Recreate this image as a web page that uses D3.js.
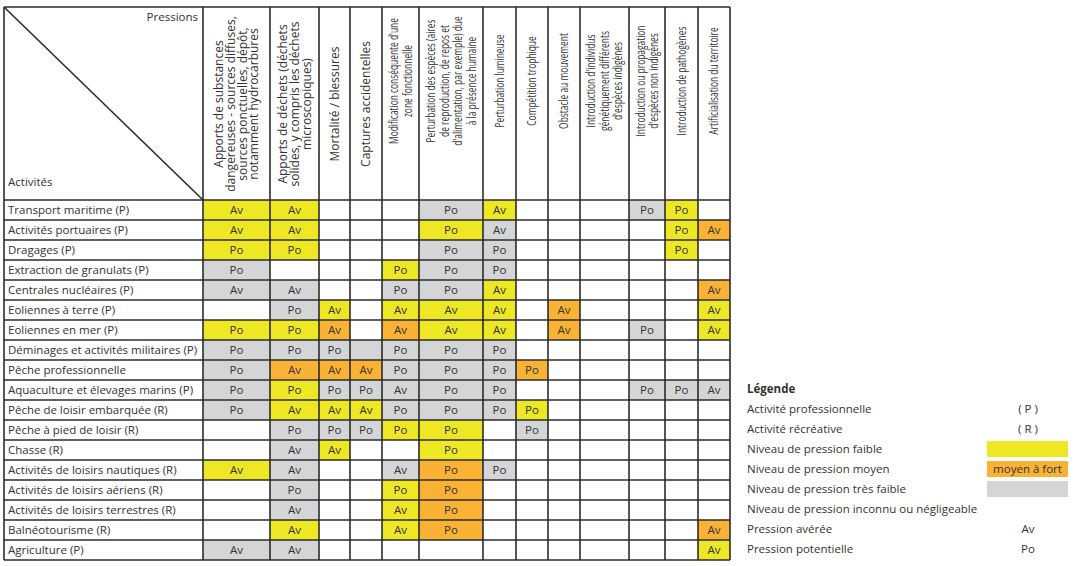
<!DOCTYPE html>
<html lang="fr">
<head>
<meta charset="UTF-8">
<title>Pressions par activité</title>
<script src="https://d3js.org/d3.v7.min.js"></script>
<style>
	body, html {
		margin: 0;
		padding: 0;
		background: #fff;
		overflow: hidden;
	}
	svg {
		display: block;
		font-family: "Open Sans", "Noto Sans", sans-serif;
		font-size: 11.5px;
		fill: #333;
	}
	.grid {
		stroke: #2b2b2b;
		stroke-width: 1.6;
	}
	.head text {
		font-size: 12px;
	}
</style>
</head>
<body>
<div id="chart"></div>
<script>
	// Activités (lignes)
	const activites = [
		"Transport maritime (P)",
		"Activités portuaires (P)",
		"Dragages (P)",
		"Extraction de granulats (P)",
		"Centrales nucléaires (P)",
		"Eoliennes à terre (P)",
		"Eoliennes en mer (P)",
		"Déminages et activités militaires (P)",
		"Pêche professionnelle",
		"Aquaculture et élevages marins (P)",
		"Pêche de loisir embarquée (R)",
		"Pêche à pied de loisir (R)",
		"Chasse (R)",
		"Activités de loisirs nautiques (R)",
		"Activités de loisirs aériens (R)",
		"Activités de loisirs terrestres (R)",
		"Balnéotourisme (R)",
		"Agriculture (P)"
	];

	// Pressions (colonnes), une entrée par ligne de texte
	const pressions = [
		["Apports de substances", "dangereuses - sources diffuses,", "sources ponctuelles, dépôt,", "notamment hydrocarbures"],
		["Apports de déchets (déchets", "solides, y compris les déchets", "microscopiques)"],
		["Mortalité / blessures"],
		["Captures accidentelles"],
		["Modification conséquente d'une", "zone fonctionnelle"],
		["Perturbation des espèces (aires", "de reproduction, de repos et", "d'alimentation, par exemple) due", "à la présence humaine"],
		["Perturbation lumineuse"],
		["Compétition trophique"],
		["Obstacle au mouvement"],
		["Introduction d'individus", "génétiquement différents", "d'espèces indigènes"],
		["Introduction ou propagation", "d'espèces non indigènes"],
		["Introduction de pathogènes"],
		["Artificialisation du territoire"]
	];

	// Niveau de pression : f = faible, m = moyen à fort, t = très faible, "" = inconnu / négligeable
	const niveaux = [
		["f", "f", "",  "",  "",  "t", "f", "",  "",  "", "t", "f", "" ],
		["f", "f", "",  "",  "",  "f", "t", "",  "",  "", "",  "f", "m"],
		["f", "f", "",  "",  "",  "t", "t", "",  "",  "", "",  "f", "" ],
		["t", "",  "",  "",  "f", "t", "t", "",  "",  "", "",  "",  "" ],
		["t", "t", "",  "",  "t", "t", "f", "",  "",  "", "",  "",  "m"],
		["",  "t", "f", "",  "f", "f", "f", "",  "m", "", "",  "",  "f"],
		["f", "f", "m", "",  "m", "f", "f", "",  "m", "", "t", "",  "f"],
		["t", "t", "t", "t", "t", "t", "t", "",  "",  "", "",  "",  "" ],
		["t", "m", "m", "m", "t", "t", "t", "m", "",  "", "",  "",  "" ],
		["t", "f", "t", "t", "t", "t", "t", "",  "",  "", "t", "t", "t"],
		["t", "f", "f", "f", "t", "t", "t", "f", "",  "", "",  "",  "" ],
		["",  "t", "t", "t", "f", "f", "",  "t", "",  "", "",  "",  "" ],
		["",  "t", "f", "",  "",  "f", "",  "",  "",  "", "",  "",  "" ],
		["f", "t", "",  "",  "t", "m", "t", "",  "",  "", "",  "",  "" ],
		["",  "t", "",  "",  "f", "m", "",  "",  "",  "", "",  "",  "" ],
		["",  "t", "",  "",  "f", "m", "",  "",  "",  "", "",  "",  "" ],
		["",  "f", "",  "",  "f", "m", "",  "",  "",  "", "",  "",  "m"],
		["t", "t", "",  "",  "",  "",  "",  "",  "",  "", "",  "",  "f"]
	];

	// Type de pression : Av = avérée, Po = potentielle
	const types = [
		["Av", "Av", "",   "",   "",   "Po", "Av", "",   "",   "", "Po", "Po", ""  ],
		["Av", "Av", "",   "",   "",   "Po", "Av", "",   "",   "", "",   "Po", "Av"],
		["Po", "Po", "",   "",   "",   "Po", "Po", "",   "",   "", "",   "Po", ""  ],
		["Po", "",   "",   "",   "Po", "Po", "Po", "",   "",   "", "",   "",   ""  ],
		["Av", "Av", "",   "",   "Po", "Po", "Av", "",   "",   "", "",   "",   "Av"],
		["",   "Po", "Av", "",   "Av", "Av", "Av", "",   "Av", "", "",   "",   "Av"],
		["Po", "Po", "Av", "",   "Av", "Av", "Av", "",   "Av", "", "Po", "",   "Av"],
		["Po", "Po", "Po", "",   "Po", "Po", "Po", "",   "",   "", "",   "",   ""  ],
		["Po", "Av", "Av", "Av", "Po", "Po", "Po", "Po", "",   "", "",   "",   ""  ],
		["Po", "Po", "Po", "Po", "Av", "Po", "Po", "",   "",   "", "Po", "Po", "Av"],
		["Po", "Av", "Av", "Av", "Po", "Po", "Po", "Po", "",   "", "",   "",   ""  ],
		["",   "Po", "Po", "Po", "Po", "Po", "",   "Po", "",   "", "",   "",   ""  ],
		["",   "Av", "Av", "",   "",   "Po", "",   "",   "",   "", "",   "",   ""  ],
		["Av", "Av", "",   "",   "Av", "Po", "Po", "",   "",   "", "",   "",   ""  ],
		["",   "Po", "",   "",   "Po", "Po", "",   "",   "",   "", "",   "",   ""  ],
		["",   "Av", "",   "",   "Av", "Po", "",   "",   "",   "", "",   "",   ""  ],
		["",   "Av", "",   "",   "Av", "Po", "",   "",   "",   "", "",   "",   "Av"],
		["Av", "Av", "",   "",   "",   "",   "",   "",   "",   "", "",   "",   "Av"]
	];

	// Légende
	const legendeLabels = [
		"Activité professionnelle",
		"Activité récréative",
		"Niveau de pression faible",
		"Niveau de pression moyen",
		"Niveau de pression très faible",
		"Niveau de pression inconnu ou négligeable",
		"Pression avérée",
		"Pression potentielle"
	];
	const legendeValeurs = ["( P )", "( R )", "f", "m", "t", "", "Av", "Po"];

	const couleurs = { f: "#ede823", m: "#f9b233", t: "#d4d5d7" };

	const width = 1090;
	const height = 566;

	// largeurs des colonnes de pressions (px)
	const colWidths = [67, 49, 31, 32, 37, 64, 33, 32, 32, 49, 36, 33, 32];
	const gLeft = 4, labelRight = 203, gTop = 7, headerBottom = 200, gBottom = 560;
	const colX = Array.from(d3.cumsum([labelRight].concat(colWidths)));
	const gRight = colX[colX.length - 1];

	const x0 = d3.scaleOrdinal().domain(d3.range(pressions.length)).range(colX.slice(0, -1));
	const w = d3.scaleOrdinal().domain(d3.range(pressions.length)).range(colWidths);
	const y = d3.scaleBand().domain(d3.range(activites.length)).range([headerBottom, gBottom]);
	const fill = d3.scaleOrdinal().domain(["f", "m", "t"]).range([couleurs.f, couleurs.m, couleurs.t]).unknown("none");

	const svg = d3.select("#chart")
		.append("svg")
		.attr("width", width)
		.attr("height", height);

	// cellules
	const cells = [];
	niveaux.forEach((row, r) => row.forEach((n, c) => cells.push({ r, c, n, t: types[r][c] })));

	svg.append("g")
		.selectAll("rect")
		.data(cells.filter(d => d.n))
		.join("rect")
		.attr("x", d => x0(d.c))
		.attr("y", d => y(d.r))
		.attr("width", d => w(d.c))
		.attr("height", y.bandwidth())
		.attr("fill", d => fill(d.n));

	svg.append("g")
		.selectAll("text")
		.data(cells.filter(d => d.t))
		.join("text")
		.attr("x", d => x0(d.c) + w(d.c) / 2)
		.attr("y", d => y(d.r) + y.bandwidth() / 2)
		.attr("dy", "0.36em")
		.attr("text-anchor", "middle")
		.text(d => d.t);

	// libellés des activités
	svg.append("g")
		.selectAll("text")
		.data(activites)
		.join("text")
		.attr("x", gLeft + 4)
		.attr("y", (d, i) => y(i) + y.bandwidth() / 2)
		.attr("dy", "0.36em")
		.text(d => d);

	// en-têtes verticaux : les quatre premiers sont plus larges, les suivants condensés
	const condensed = i => i >= 4;
	const head = svg.append("g")
		.attr("class", "head")
		.selectAll("g")
		.data(pressions)
		.join("g")
		.attr("transform", (d, i) => `translate(${x0(i) + w(i) / 2},${condensed(i) ? 81 : 104}) rotate(-90) scale(${condensed(i) ? 0.7 : 1},1)`);

	head.selectAll("text")
		.data((d, i) => d.map((t, j) => ({ t, j, n: d.length, lh: condensed(i) ? 13.5 : 11.7 })))
		.join("text")
		.attr("x", 0)
		.attr("y", d => (d.j - (d.n - 1) / 2) * d.lh)
		.attr("dy", "0.36em")
		.attr("text-anchor", "middle")
		.text(d => d.t);

	svg.append("text")
		.attr("x", labelRight - 5)
		.attr("y", gTop + 14)
		.attr("text-anchor", "end")
		.text("Pressions");

	svg.append("text")
		.attr("x", gLeft + 4)
		.attr("y", headerBottom - 14)
		.text("Activités");

	// grille
	const grid = svg.append("g").attr("class", "grid");
	grid.append("line")
		.attr("x1", gLeft).attr("y1", gTop)
		.attr("x2", labelRight).attr("y2", headerBottom);

	grid.selectAll(".h")
		.data([gTop].concat(d3.range(activites.length).map(i => y(i)), [gBottom]))
		.join("line")
		.attr("class", "h")
		.attr("x1", gLeft).attr("x2", gRight)
		.attr("y1", d => d).attr("y2", d => d);

	grid.selectAll(".v")
		.data([gLeft].concat(colX))
		.join("line")
		.attr("class", "v")
		.attr("x1", d => d).attr("x2", d => d)
		.attr("y1", gTop).attr("y2", gBottom);

	// légende
	const lx = 747, lsw = 987, lsWidth = 81, ly0 = 389, lstep = 20;
	const leg = svg.append("g");

	leg.append("text")
		.attr("x", lx)
		.attr("y", ly0)
		.attr("dy", "0.36em")
		.attr("font-weight", "bold")
		.text("Légende");

	const items = leg.selectAll("g")
		.data(legendeLabels.map((l, i) => ({ l, v: legendeValeurs[i], i })))
		.join("g")
		.attr("transform", d => `translate(0,${ly0 + lstep * (d.i + 1)})`);

	items.append("text")
		.attr("x", lx)
		.attr("dy", "0.36em")
		.text(d => d.l);

	items.filter(d => couleurs[d.v])
		.append("rect")
		.attr("x", lsw)
		.attr("y", -8)
		.attr("width", lsWidth)
		.attr("height", 16)
		.attr("fill", d => couleurs[d.v]);

	items.filter(d => d.v === "m")
		.append("text")
		.attr("x", lsw + lsWidth / 2)
		.attr("dy", "0.36em")
		.attr("text-anchor", "middle")
		.text("moyen à fort");

	items.filter(d => d.v && !couleurs[d.v])
		.append("text")
		.attr("x", 1028)
		.attr("dy", "0.36em")
		.attr("text-anchor", "middle")
		.text(d => d.v);
</script>
</body>
</html>
